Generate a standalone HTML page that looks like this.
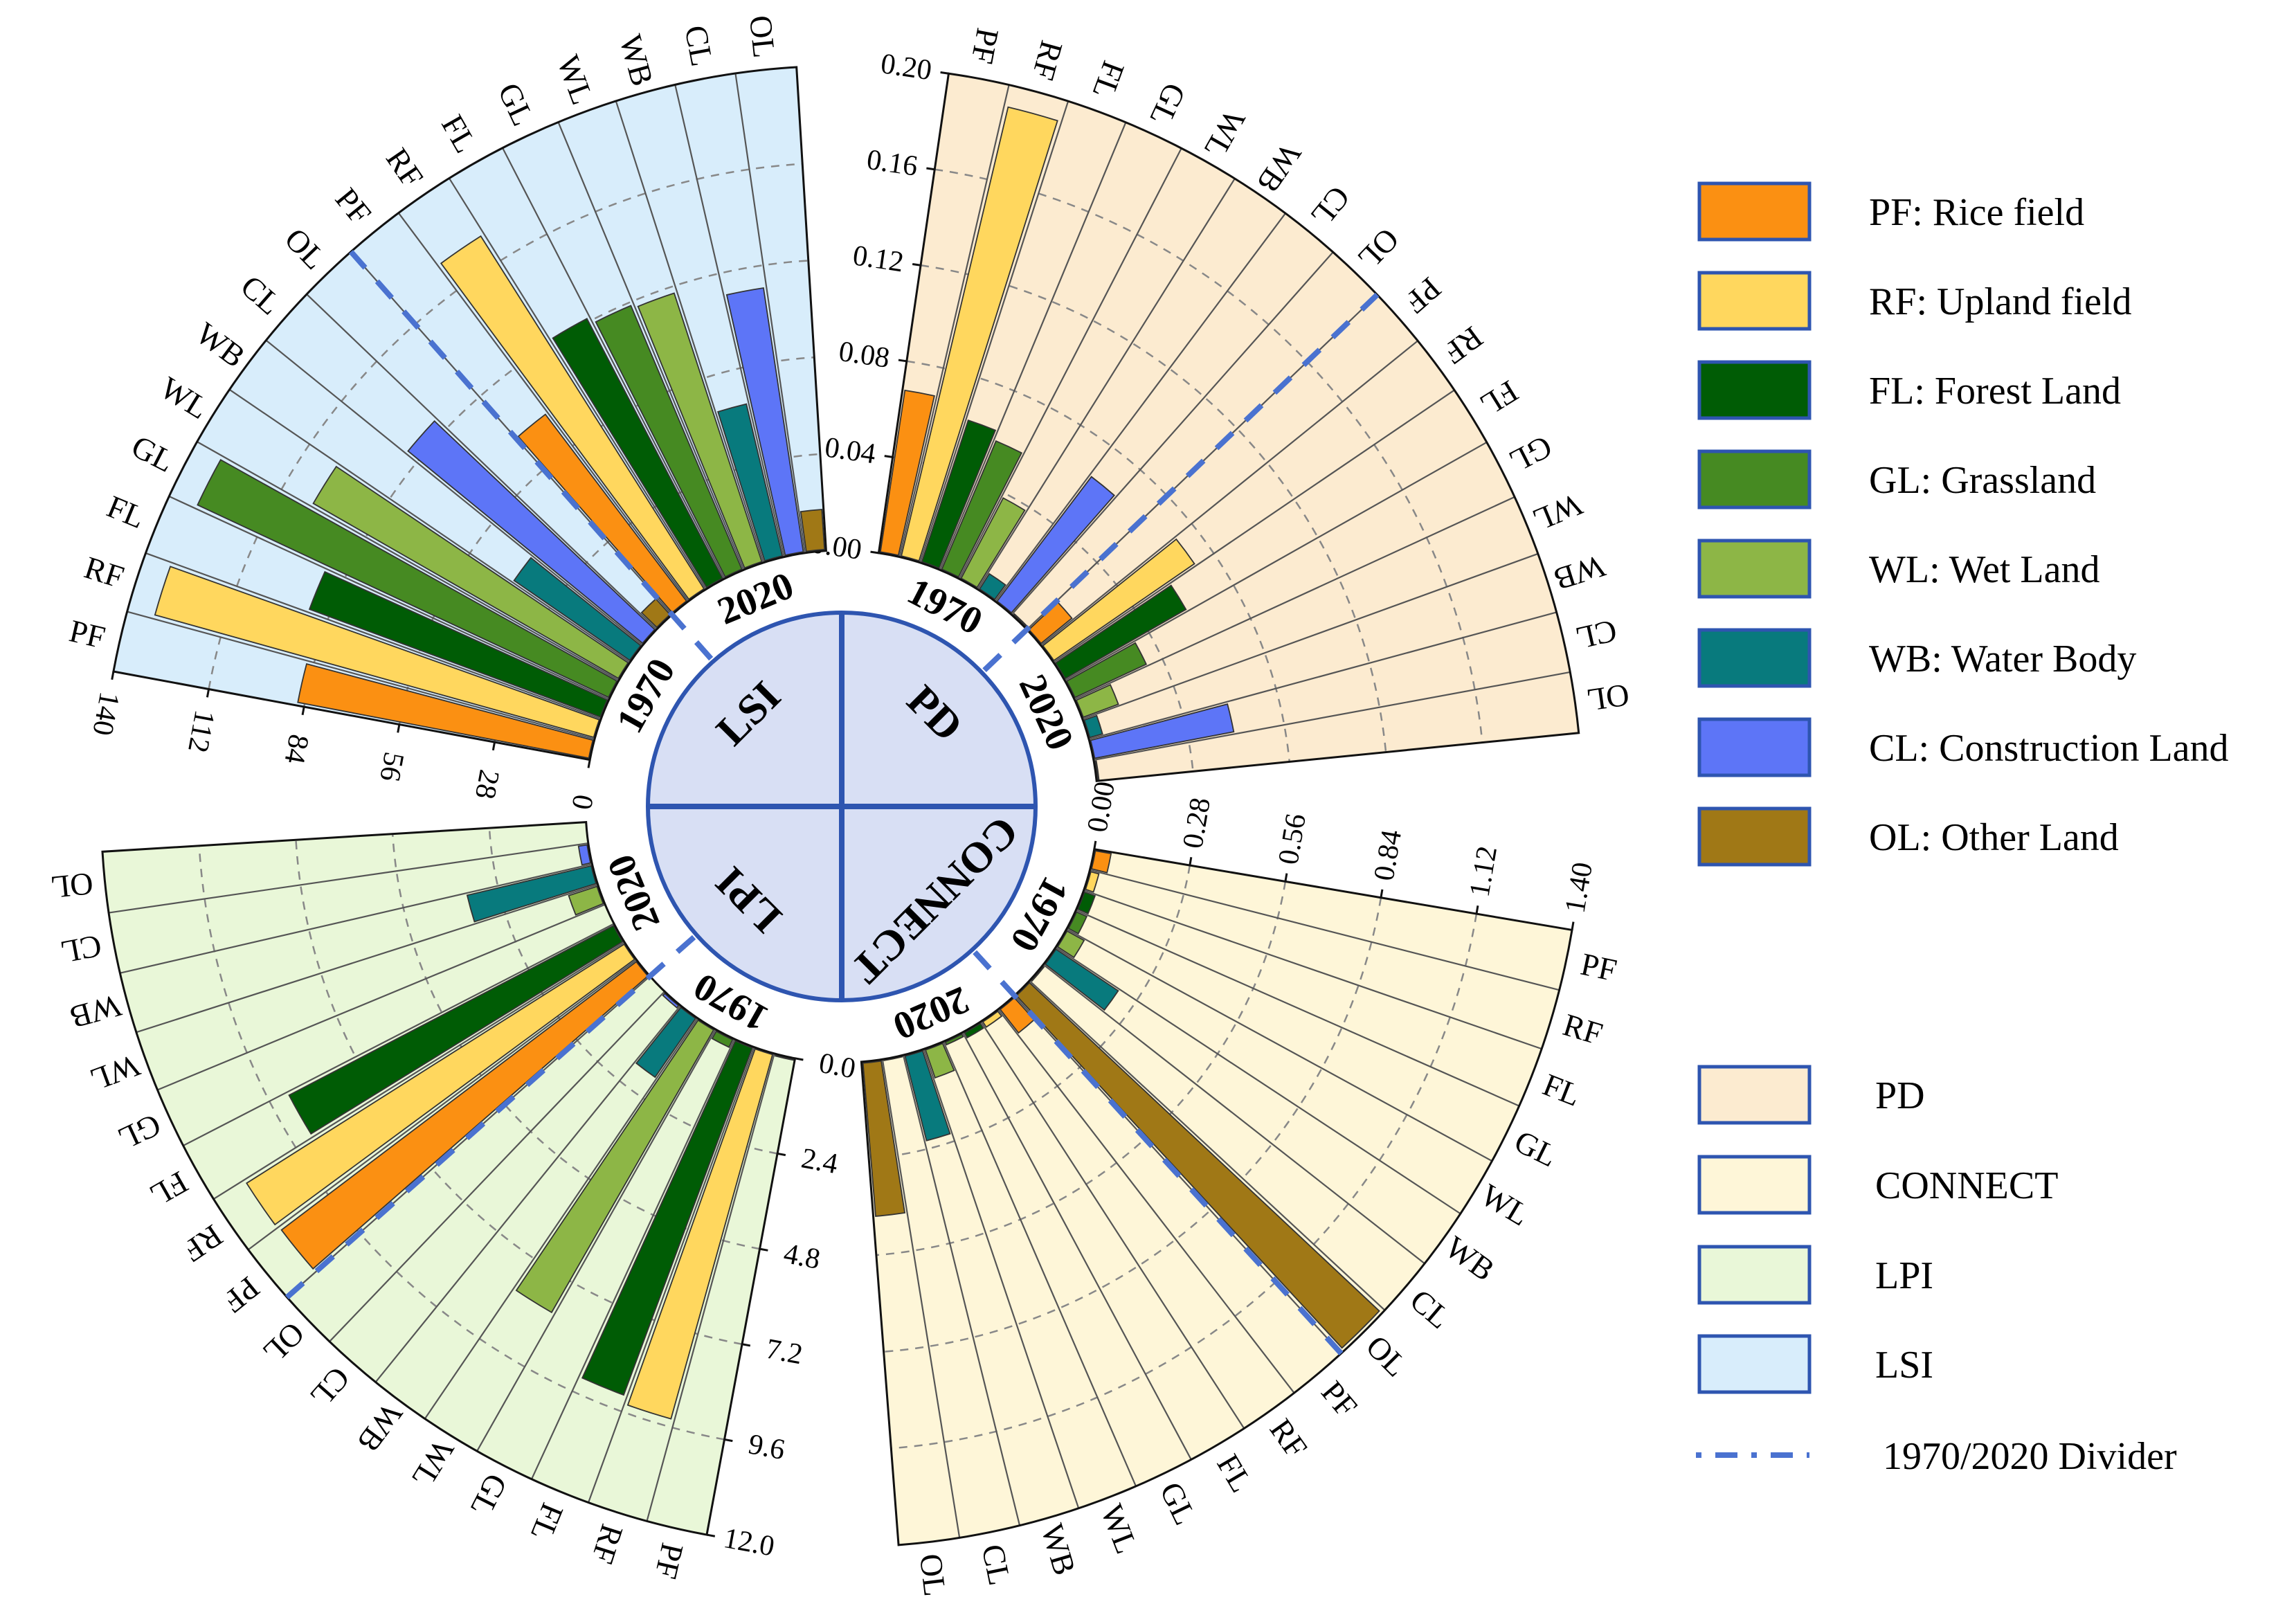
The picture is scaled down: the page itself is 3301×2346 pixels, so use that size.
<!DOCTYPE html>
<html><head><meta charset="utf-8"><style>
html,body{margin:0;padding:0;background:#fff;}
svg{display:block;}
svg text{font-family:"Liberation Serif","Times New Roman",serif;}
</style></head><body>
<svg id="chart" xmlns="http://www.w3.org/2000/svg" width="3301" height="2346" viewBox="0 0 3301 2346" font-family="Liberation Serif, serif">
<rect x="0" y="0" width="3301" height="2346" fill="#ffffff"/>
<g id="plot"></g>
<g id="legend" font-family="Liberation Serif, serif">
  <rect x="2455" y="265" width="159" height="81" fill="#FB9012" stroke="#2E55B0" stroke-width="5"/>
  <text x="2700" y="325" font-size="56">PF: Rice field</text>
  <rect x="2455" y="394" width="159" height="81" fill="#FFD75E" stroke="#2E55B0" stroke-width="5"/>
  <text x="2700" y="454" font-size="56">RF: Upland field</text>
  <rect x="2455" y="523" width="159" height="81" fill="#005C05" stroke="#2E55B0" stroke-width="5"/>
  <text x="2700" y="583" font-size="56">FL: Forest Land</text>
  <rect x="2455" y="652" width="159" height="81" fill="#468A22" stroke="#2E55B0" stroke-width="5"/>
  <text x="2700" y="712" font-size="56">GL: Grassland</text>
  <rect x="2455" y="781" width="159" height="81" fill="#8DB646" stroke="#2E55B0" stroke-width="5"/>
  <text x="2700" y="841" font-size="56">WL: Wet Land</text>
  <rect x="2455" y="910" width="159" height="81" fill="#087A7D" stroke="#2E55B0" stroke-width="5"/>
  <text x="2700" y="970" font-size="56">WB: Water Body</text>
  <rect x="2455" y="1039" width="159" height="81" fill="#5D75F7" stroke="#2E55B0" stroke-width="5"/>
  <text x="2700" y="1099" font-size="56">CL: Construction Land</text>
  <rect x="2455" y="1168" width="159" height="81" fill="#A07816" stroke="#2E55B0" stroke-width="5"/>
  <text x="2700" y="1228" font-size="56">OL: Other Land</text>
  <rect x="2455" y="1541" width="159" height="81" fill="#FCEBD0" stroke="#2E55B0" stroke-width="5"/>
  <text x="2709" y="1601" font-size="56">PD</text>
  <rect x="2455" y="1671" width="159" height="81" fill="#FEF6D8" stroke="#2E55B0" stroke-width="5"/>
  <text x="2709" y="1731" font-size="56">CONNECT</text>
  <rect x="2455" y="1801" width="159" height="81" fill="#E9F7D8" stroke="#2E55B0" stroke-width="5"/>
  <text x="2709" y="1861" font-size="56">LPI</text>
  <rect x="2455" y="1930" width="159" height="81" fill="#D8EDFB" stroke="#2E55B0" stroke-width="5"/>
  <text x="2709" y="1990" font-size="56">LSI</text>
  <line x1="2450" y1="2102" x2="2614" y2="2102" stroke="#4A72D0" stroke-width="8" stroke-dasharray="8 20 32 20"/>
  <text x="2720" y="2122" font-size="56">1970/2020 Divider</text>
</g>
</svg>
<script>
const categories = ["PF","RF","FL","GL","WL","WB","CL","OL"];
const pd1970 = [0.068, 0.191, 0.062, 0.058, 0.038, 0.008, 0.065, 0.001];
const pd2020 = [0.017, 0.071, 0.058, 0.033, 0.016, 0.006, 0.059, 0.001];
const connect1970 = [0.05, 0.028, 0.036, 0.036, 0.06, 0.22, 0.006, 1.39];
const connect2020 = [0.09, 0.022, 0.02, 0.012, 0.089, 0.256, 0.003, 0.448];
const lpi1970 = [0.05, 9.4, 9.2, 0.24, 8.1, 1.8, 0.1, 0];
const lpi2020 = [11.05, 11.1, 9.1, 0, 0.77, 3.19, 0.25, 0];
const lsi1970 = [86, 132, 90, 131.5, 102, 41, 88, 6.5];
const lsi2020 = [68, 121, 85, 83, 82, 45.5, 77.5, 12];
const pdTicks = ["0.00","0.04","0.08","0.12","0.16","0.20"];
const connectTicks = ["0.00","0.28","0.56","0.84","1.12","1.40"];
const lpiTicks = ["0.0","2.4","4.8","7.2","9.6","12.0"];
const lsiTicks = ["0","28","56","84","112","140"];
const years = ["1970","2020"];

const colors = ["#FB9012","#FFD75E","#005C05","#468A22","#8DB646","#087A7D","#5D75F7","#A07816"];
const NS = "http://www.w3.org/2000/svg";
const cx = 1216, cy = 1165, r0 = 370, R = 1070, SPAN = 76;
const FONT = "Liberation Serif, serif";
const plot = document.getElementById("plot");

function pt(b, r){ const a = b*Math.PI/180; return [cx + r*Math.sin(a), cy - r*Math.cos(a)]; }
function el(tag, attrs, parent){ const e = document.createElementNS(NS, tag); for (const k in attrs) e.setAttribute(k, attrs[k]); (parent||plot).appendChild(e); return e; }
function annulus(b1, b2, ra, rb){
  const p1 = pt(b1, ra), p2 = pt(b2, ra), p3 = pt(b2, rb), p4 = pt(b1, rb);
  const large = (b2 - b1) > 180 ? 1 : 0;
  return `M${p1[0]},${p1[1]} A${ra},${ra} 0 ${large} 1 ${p2[0]},${p2[1]} L${p3[0]},${p3[1]} A${rb},${rb} 0 ${large} 0 ${p4[0]},${p4[1]} Z`;
}

const sectors = [
  {key:"pd", start:8.3, max:0.20, ticks:pdTicks, v1:pd1970, v2:pd2020, bg:"#FCEBD0", flip:false, tickRot:0},
  {key:"connect", start:99.6, max:1.40, ticks:connectTicks, v1:connect1970, v2:connect2020, bg:"#FEF6D8", flip:true, tickRot:180},
  {key:"lpi", start:190.5, max:12.0, ticks:lpiTicks, v1:lpi1970, v2:lpi2020, bg:"#E9F7D8", flip:true, tickRot:180},
  {key:"lsi", start:280.5, max:140, ticks:lsiTicks, v1:lsi1970, v2:lsi2020, bg:"#D8EDFB", flip:false, tickRot:180}
];
const centerNames = {pd:"PD", connect:"CONNECT", lpi:"LPI", lsi:"LSI"};

const cc = el("circle", {cx:cx, cy:cy, r:280, fill:"#D8DFF4", stroke:"#2E55B0", "stroke-width":6});


const hl = el("line", {x1:cx-280, y1:cy, x2:cx+280, y2:cy, stroke:"#2E55B0", "stroke-width":8});


const vl = el("line", {x1:cx, y1:cy-280, x2:cx, y2:cy+280, stroke:"#2E55B0", "stroke-width":8});



sectors.forEach(s => {
  const slot = SPAN/16;
  const end = s.start + SPAN;
  const rv = v => r0 + (R - r0) * Math.max(0, v) / s.max;
  const bg = el("path", {d:annulus(s.start, end, r0, R), fill:s.bg, stroke:"none"});
  
  
  for (let t = 1; t < s.ticks.length - 1; t++) {
    const rr = rv(parseFloat(s.ticks[t]));
    const p1 = pt(s.start, rr), p2 = pt(end, rr);
    const g = el("path", {d:`M${p1[0]},${p1[1]} A${rr},${rr} 0 0 1 ${p2[0]},${p2[1]}`, fill:"none", stroke:"#888", "stroke-width":2.5, "stroke-dasharray":"12 10"});
    
    
  }
  for (let i = 1; i < 16; i++) {
    const p1 = pt(s.start + i*slot, r0), p2 = pt(s.start + i*slot, R);
    const g = el("line", {x1:p1[0], y1:p1[1], x2:p2[0], y2:p2[1], stroke:"#555", "stroke-width":2.2});
    
    
  }
  [s.v1, s.v2].forEach((vals, yi) => {
    vals.forEach((v, ci) => {
      if (v <= 0) return;
      const mid = s.start + (yi*8 + ci + 0.5) * slot;
      const w = slot * 0.86;
      const b = el("path", {d:annulus(mid - w/2, mid + w/2, r0 + 2, rv(v)), fill:colors[ci], stroke:"#333", "stroke-width":1.8});
      
      
    });
  });
  const ol = el("path", {d:annulus(s.start, end, r0, R), fill:"none", stroke:"#111", "stroke-width":3});
  
  
  const dv1 = pt(s.start + 8*slot, 285), dv2 = pt(s.start + 8*slot, R);
  const dv = el("line", {x1:dv1[0], y1:dv1[1], x2:dv2[0], y2:dv2[1], stroke:"#4A72D0", "stroke-width":8, "stroke-dasharray":"32 26"});
  
  
  const tb = s.start*Math.PI/180;
  const tx = -Math.cos(tb), ty = -Math.sin(tb);
  s.ticks.forEach((lab) => {
    const rr = rv(parseFloat(lab));
    const p = pt(s.start, rr);
    const tk = el("line", {x1:p[0], y1:p[1], x2:p[0]+tx*12, y2:p[1]+ty*12, stroke:"#111", "stroke-width":3});
    
    
    const x = p[0] + tx*62, y = p[1] + ty*62;
    const t = el("text", {x:x, y:y, "font-family":FONT, "font-size":42, "text-anchor":"middle", "dominant-baseline":"central", transform:`rotate(${s.start + s.tickRot} ${x} ${y})`});
    t.textContent = lab;
    
    
  });
  for (let i = 0; i < 16; i++) {
    const b = s.start + (i + 0.5)*slot;
    const p = pt(b, R + 48);
    const rot = s.flip ? b - 90 : b + 90;
    const t = el("text", {x:p[0], y:p[1], "font-family":FONT, "font-size":46, "text-anchor":"middle", "dominant-baseline":"central", transform:`rotate(${rot} ${p[0]} ${p[1]})`});
    t.textContent = categories[i % 8];
    
    
  }
  years.forEach((yr, yi) => {
    const b = s.start + SPAN*(yi === 0 ? 0.25 : 0.75);
    const p = pt(b, 325);
    const t = el("text", {x:p[0], y:p[1], "font-family":FONT, "font-size":56, "font-weight":"bold", "text-anchor":"middle", "dominant-baseline":"central", transform:`rotate(${b} ${p[0]} ${p[1]})`});
    t.textContent = yr;
    
    
  });
  const mb = Math.round(s.start / 90) * 90 + 45;
  const cp = pt(mb, 190);
  const ct = el("text", {x:cp[0], y:cp[1], "font-family":FONT, "font-size":62, "font-weight":"bold", "text-anchor":"middle", "dominant-baseline":"central", transform:`rotate(${mb} ${cp[0]} ${cp[1]})`});
  ct.textContent = centerNames[s.key];
  
  
});
</script>
</body></html>
